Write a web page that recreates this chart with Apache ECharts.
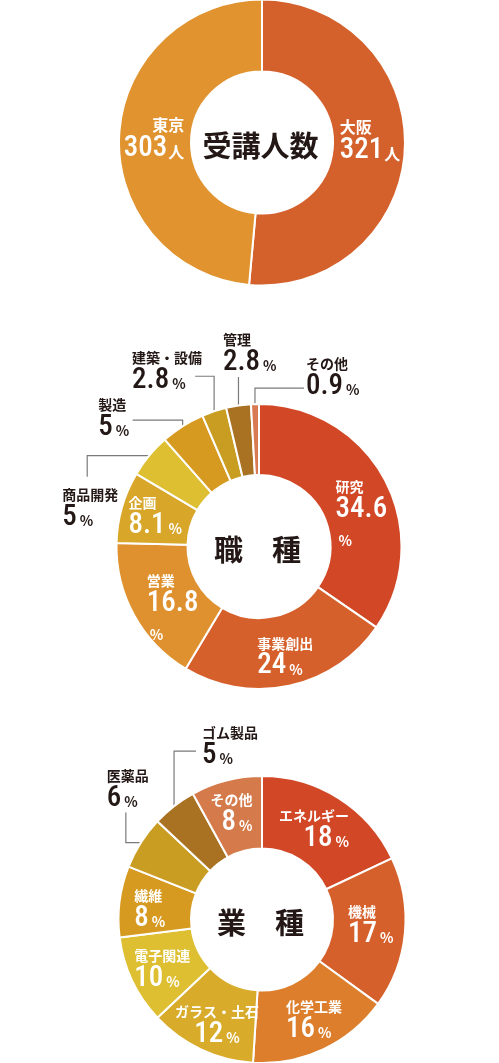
<!DOCTYPE html>
<html>
<head>
<meta charset="utf-8">
<script src="https://cdn.jsdelivr.net/npm/echarts@6/dist/echarts.min.js"></script>
<style>
  html, body { margin: 0; padding: 0; background: #fff; }
  #chart { width: 499px; height: 1063px; }
</style>
</head>
<body>
<div id="chart"></div>
<script>
// 受講人数
const cityNames = ["大阪", "東京"];
const cityValues = [321, 303];

// 職種 (%)
const jobNames = ["研究", "事業創出", "営業", "企画", "商品開発", "製造", "建築・設備", "管理", "その他"];
const jobValues = [34.6, 24, 16.8, 8.1, 5, 5, 2.8, 2.8, 0.9];

// 業種 (%)
const industryNames = ["エネルギー", "機械", "化学工業", "ガラス・土石", "電子関連", "繊維", "医薬品", "ゴム製品", "その他"];
const industryValues = [18, 17, 16, 12, 10, 8, 6, 5, 8];

const cityColors = ["#D4602C", "#E0932F"];
const jobColors = ["#D24827", "#D5602B", "#E0912F", "#D8A629", "#DEBF31", "#D69A21", "#C99C22", "#A97223", "#D97B52"];
const industryColors = ["#D24827", "#D5602B", "#DC7E2C", "#D8AB2A", "#DEBF31", "#D69A21", "#C99C22", "#A97223", "#D57A4A"];

const JP = '"Noto Sans CJK JP", sans-serif';
const NUM = '"Roboto Condensed", Roboto, sans-serif';
const DARK = "#231815";

function richFor(color, unit, nameSize) {
  return {
    n: { fontFamily: JP, fontWeight: "bold", fontSize: nameSize, lineHeight: nameSize + 4, color: color },
    v: { fontFamily: NUM, fontWeight: 500, fontSize: 29, lineHeight: 28, color: color },
    u: unit === "人"
      ? { fontFamily: JP, fontWeight: "bold", fontSize: 16, lineHeight: 28, color: color, padding: [6, 0, 0, 1] }
      : { fontFamily: JP, fontWeight: "bold", fontSize: 14, lineHeight: 28, color: color, padding: [6, 0, 0, 3] }
  };
}

// one donut, labels placed from the library's own layout
function donut(cfg) {
  const wrap = cfg.wrap || [];
  const outside = cfg.outside || {};
  return {
    type: "pie",
    center: cfg.center,
    radius: cfg.radius,
    startAngle: 90,
    clockwise: true,
    avoidLabelOverlap: false,
    silent: true,
    emphasis: { disabled: true },
    itemStyle: { borderColor: "#fff", borderWidth: 2 },
    label: {
      show: true,
      position: "inside",
      formatter: function (p) {
        const sep = wrap.indexOf(p.name) >= 0 ? "\n" : "";
        return "{n|" + p.name + "}\n{v|" + p.value + "}" + sep + "{u|" + cfg.unit + "}";
      }
    },
    labelLine: { show: false },
    labelLayout: function (p) {
      const name = cfg.names[p.dataIndex];
      const ld = outside[name];
      if (ld) {
        const s = p.labelLinePoints ? p.labelLinePoints[0] : [0, 0];
        const e = [s[0] + ld.elbow[0], s[1] + ld.elbow[1]];
        const t = [e[0] + ld.end[0], e[1] + ld.end[1]];
        return {
          x: s[0] + ld.label[0], y: s[1] + ld.label[1],
          align: "left", verticalAlign: "top",
          labelLinePoints: [s, e, t]
        };
      }
      const r = p.labelRect;
      const d = (cfg.nudge && cfg.nudge[name]) || [0, 0];
      const al = (cfg.align && cfg.align[name]) || "center";
      const x = al === "left" ? r.x : al === "right" ? r.x + r.width : r.x + r.width / 2;
      return { x: x + d[0], y: r.y + r.height / 2 + d[1], align: al, verticalAlign: "middle" };
    },
    data: cfg.names.map(function (n, i) {
      const item = { name: n, value: cfg.values[i], itemStyle: { color: cfg.colors[i] } };
      if (outside[n]) {
        item.label = { position: "outside", rich: richFor(DARK, cfg.unit, cfg.nameSize) };
        item.labelLine = { show: true, smooth: false, lineStyle: { color: "#7a7a7a", width: 1.2 } };
      } else {
        item.label = { rich: richFor("#fff", cfg.unit, cfg.nameSize) };
      }
      return item;
    })
  };
}

const c1 = [262, 142.5], c2 = [259, 546.5], c3 = [262, 919.5];

const series = [
  donut({
    names: cityNames, values: cityValues, colors: cityColors, unit: "人", nameSize: 16,
    center: c1, radius: [71, 143],
    align: { "大阪": "left", "東京": "right" },
    nudge: { "大阪": [-2, -8], "東京": [2, 0] }
  }),
  donut({
    names: jobNames, values: jobValues, colors: jobColors, unit: "%", nameSize: 14,
    center: c2, radius: [71.5, 142.5],
    wrap: ["研究", "営業"],
    align: { "研究": "left", "事業創出": "left", "営業": "left", "企画": "left" },
    nudge: { "研究": [5, 20], "事業創出": [3, 2], "営業": [10, 10], "企画": [2, -1] },
    outside: {
      "商品開発": { elbow: [-62, 0], end: [0, 21], label: [-87, 30] },
      "製造": { elbow: [0, -6], end: [-50, 0], label: [-84.5, -30] },
      "建築・設備": { elbow: [0, -35], end: [-19, 0], label: [-82, -63] },
      "管理": { elbow: [0, -28.5], end: [0, 0], label: [-15.5, -74.5] },
      "その他": { elbow: [0, -16], end: [49, 0], label: [51, -49] }
    }
  }),
  donut({
    names: industryNames, values: industryValues, colors: industryColors, unit: "%", nameSize: 14,
    center: c3, radius: [71, 143.5],
    align: { "エネルギー": "right", "機械": "left", "化学工業": "left", "電子関連": "left", "繊維": "left", "その他": "right" },
    nudge: { "エネルギー": [-7, 2], "機械": [-1, -5], "化学工業": [5, 0], "ガラス・土石": [2, 5], "電子関連": [0, 2], "繊維": [-3, 3], "その他": [-3, 0] },
    outside: {
      "医薬品": { elbow: [-15, 0], end: [0, -30], label: [-34, -76] },
      "ゴム製品": { elbow: [0, -55], end: [22, 0], label: [28, -82] }
    }
  })
];

function centerTitle(text, c) {
  return {
    type: "text", x: c[0] - 1.5, y: c[1] + 3, silent: true,
    style: {
      text: text, fill: DARK, font: 'bold 29px "Noto Sans CJK JP", sans-serif',
      align: "center", verticalAlign: "middle",
      textAlign: "center", textVerticalAlign: "middle"
    }
  };
}

const chart = echarts.init(document.getElementById("chart"), null, { renderer: "canvas" });
chart.setOption({
  backgroundColor: "#fff",
  animation: false,
  series: series,
  graphic: [
    centerTitle("受講人数", c1),
    centerTitle("職\u3000種", c2),
    centerTitle("業\u3000種", c3)
  ]
});
</script>
</body>
</html>
